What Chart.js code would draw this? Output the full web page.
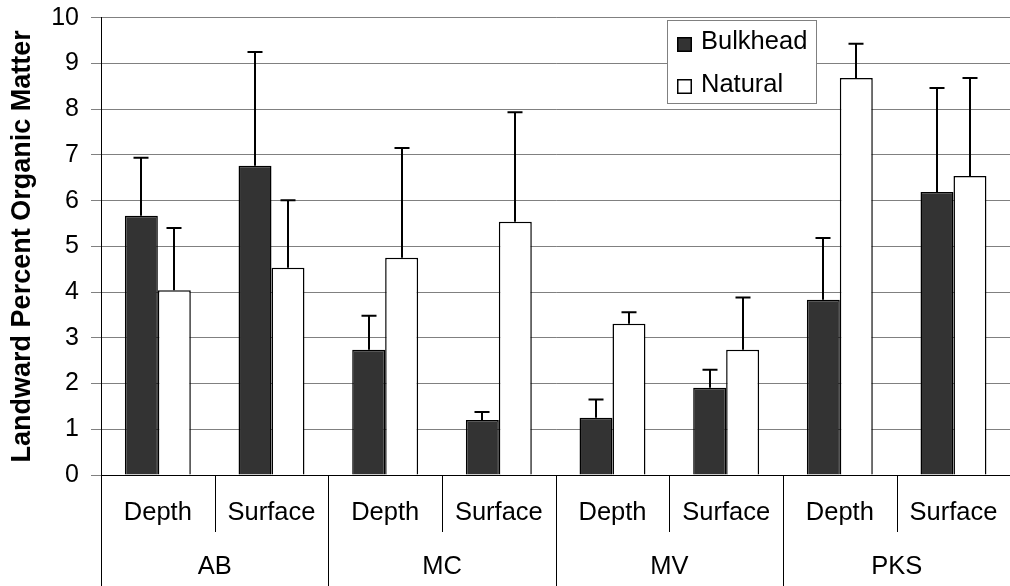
<!DOCTYPE html>
<html><head><meta charset="utf-8">
<script src="https://cdn.jsdelivr.net/npm/chart.js@4"></script>
<style>
html,body{margin:0;padding:0;background:#fff;overflow:hidden;}
#wrap{position:relative;width:1020px;height:586px;}
</style></head>
<body><div id="wrap"><canvas id="c"></canvas></div>
<script>
const categories = ['Depth','Surface','Depth','Surface','Depth','Surface','Depth','Surface'];
const sites = ['AB','MC','MV','PKS'];
const seriesNames = ['Bulkhead','Natural'];
const bulkhead    = [5.67, 6.76, 2.74, 1.20, 1.25, 1.91, 3.83, 6.19];
const bulkheadErr = [1.27, 2.49, 0.74, 0.18, 0.40, 0.39, 1.35, 2.27];
const natural     = [4.04, 4.53, 4.75, 5.54, 3.31, 2.74, 8.68, 6.54];
const naturalErr  = [1.36, 1.48, 2.40, 2.39, 0.25, 1.14, 0.75, 2.14];
const yMin = 0, yMax = 10, yStep = 1;
const yTitle = 'Landward Percent Organic Matter';

const FONT = "'Liberation Sans', Arial, sans-serif";
const errors = [bulkheadErr, naturalErr];

const errorBars = {
  id: 'errorBars',
  afterDatasetsDraw(chart) {
    const ctx = chart.ctx, y = chart.scales.y;
    ctx.save();
    ctx.strokeStyle = '#000';
    ctx.lineWidth = 2;
    chart.data.datasets.forEach((ds, i) => {
      const meta = chart.getDatasetMeta(i);
      meta.data.forEach((bar, j) => {
        const top = y.getPixelForValue(ds.data[j] + errors[i][j]);
        const bx = Math.round(bar.x);
        ctx.beginPath();
        ctx.moveTo(bx, bar.y);
        ctx.lineTo(bx, top);
        ctx.moveTo(bx - 7.5, top);
        ctx.lineTo(bx + 7.5, top);
        ctx.stroke();
      });
    });
    ctx.restore();
  }
};

const separators = {
  id: 'separators',
  afterDraw(chart) {
    const ctx = chart.ctx, x = chart.scales.x;
    const n = x.getLabels().length;
    const step = x.width / n;
    ctx.save();
    ctx.strokeStyle = '#000';
    ctx.lineWidth = 1;
    for (let k = 0; k <= n; k++) {
      const px = Math.round(x.left + k * step) + 0.5;
      const bottom = (k % 2 === 0) ? chart.height : x.top + 57;
      ctx.beginPath();
      ctx.moveTo(px, x.top);
      ctx.lineTo(px, bottom);
      ctx.stroke();
    }
    ctx.restore();
  }
};

const boxLegend = {
  id: 'boxLegend',
  afterDraw(chart) {
    const ctx = chart.ctx;
    const L = 667.5, T = 20.5, W = 149, H = 83;
    ctx.save();
    ctx.fillStyle = '#fff';
    ctx.fillRect(L, T, W, H);
    ctx.strokeStyle = '#808080';
    ctx.lineWidth = 1;
    ctx.strokeRect(L, T, W, H);
    ctx.font = '25.5px ' + FONT;
    ctx.textBaseline = 'alphabetic';
    ctx.textAlign = 'left';
    chart.data.datasets.forEach((ds, i) => {
      const cy = 44 + i * 42;
      ctx.fillStyle = ds.backgroundColor;
      ctx.fillRect(677, cy - 7, 14, 14);
      ctx.strokeStyle = '#000';
      ctx.lineWidth = 1.5;
      ctx.strokeRect(677.75, cy - 6.25, 13.5, 13.5);
      ctx.fillStyle = '#000';
      ctx.fillText(ds.label, 701, 49 + i * 42.5);
    });
    ctx.restore();
  }
};

new Chart(document.getElementById('c'), {
  type: 'bar',
  data: {
    labels: categories,
    datasets: [
      { label: seriesNames[0], data: bulkhead, backgroundColor: '#333333', borderColor: '#000', borderWidth: 1.5 },
      { label: seriesNames[1], data: natural, backgroundColor: '#ffffff', borderColor: '#000', borderWidth: 1.5 }
    ]
  },
  options: {
    responsive: true,
    maintainAspectRatio: false,
    animation: false,
    devicePixelRatio: 1,
    layout: { padding: { top: 17.7, left: 6.3, right: 3, bottom: 3 } },
    datasets: { bar: { categoryPercentage: 0.58, barPercentage: 1.0 } },
    plugins: { legend: { display: false }, tooltip: { enabled: false } },
    scales: {
      x: {
        position: 'bottom',
        offset: true,
        grid: { display: false, drawTicks: false },
        border: { display: true, color: '#000', width: 1 },
        ticks: { color: '#000', font: { family: FONT, size: 25.5 }, padding: 22.4, maxRotation: 0, autoSkip: false }
      },
      x2: {
        type: 'category',
        position: 'bottom',
        labels: sites,
        offset: true,
        grid: { display: false, drawTicks: false },
        border: { display: false },
        ticks: { color: '#000', font: { family: FONT, size: 25.5 }, padding: 1, maxRotation: 0, autoSkip: false }
      },
      y: {
        min: yMin, max: yMax,
        grid: { color: '#808080', lineWidth: 1, tickLength: 10 },
        border: { display: true, color: '#000', width: 1 },
        ticks: { stepSize: yStep, color: '#000', font: { family: FONT, size: 25, lineHeight: 0.4 }, padding: 12 },
        title: { display: true, text: yTitle, color: '#000', font: { family: FONT, size: 27, weight: 'bold' }, padding: { top: 0, bottom: 0.5 } }
      }
    }
  },
  plugins: [errorBars, separators, boxLegend]
});
</script>
</body></html>
